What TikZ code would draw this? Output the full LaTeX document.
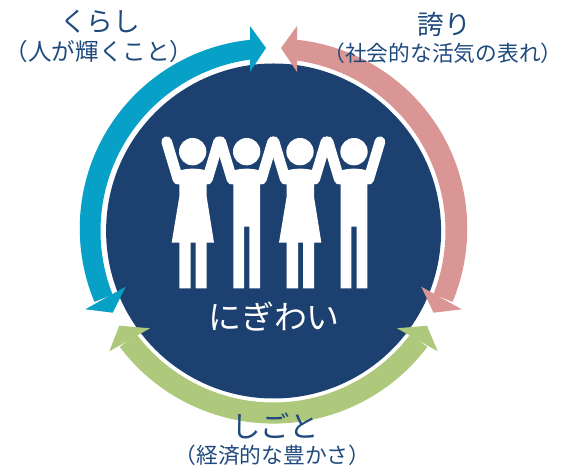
\documentclass[tikz,border=0pt]{standalone}
\usepackage{fontspec}
\usetikzlibrary{calc}
\setmainfont{Noto Sans CJK JP}
\definecolor{navy}{HTML}{1C4170}
\definecolor{txt}{HTML}{1F4A7D}
\definecolor{cblue}{HTML}{07A0C7}
\definecolor{cpink}{HTML}{D99694}
\definecolor{cgreen}{HTML}{AEC97C}
\tikzset{
  title/.style={text=txt,font=\fontsize{20}{22}\selectfont,inner sep=0pt},
  sub/.style={text=txt,font=\fontsize{16.3}{18}\selectfont,inner sep=0pt},
  arm/.style={white,line width=8pt,line cap=round},
  fig/.style={fill=white,draw=none},
}
% colour, start angle, end angle, inner radius, mid outer radius
\newcommand{\band}[5]{%
  \fill[#1] plot[domain=#2:#3,samples=60,smooth] ({273.5+(192.6+(#5-192.6)*sin((\x-(#2))/((#3)-(#2))*180))*cos(\x)},{235+(192.6+(#5-192.6)*sin((\x-(#2))/((#3)-(#2))*180))*sin(\x)})
   -- plot[domain=#3:#2,samples=60,smooth] ({273.5+#4*cos(\x)},{235+#4*sin(\x)}) -- cycle;}
\newcommand{\woman}[1]{%
  \begin{scope}[xshift=#1*0.25pt]
    \fill[fig] (128,95) circle[radius=41];
    \draw[arm] (50,65) -- (84,178);
    \draw[arm] (206,65) -- (172,178);
    \fill[fig] (88,152) .. controls (110,144) and (148,144) .. (170,152) -- (170,230) -- (192,368) -- (170,368) -- (170,505) -- (137,505) -- (137,368) -- (122,368) -- (122,505) -- (88,505) -- (88,368) -- (65,368) -- (88,230) -- cycle;
  \end{scope}}
\newcommand{\man}[1]{%
  \begin{scope}[xshift=#1*0.25pt]
    \fill[fig] (290,95) circle[radius=41];
    \draw[arm] (212,65) -- (246,178);
    \draw[arm] (368,65) -- (334,178);
    \fill[fig] (250,152) .. controls (272,144) and (308,144) .. (330,152) -- (330,505) -- (298,505) -- (298,320) -- (282,320) -- (282,505) -- (250,505) -- cycle;
  \end{scope}}
\begin{document}
\begin{tikzpicture}[x=0.75pt,y=0.75pt]
\useasboundingbox (0,0) rectangle (567,466);
\coordinate (C) at (273.6,235);
\fill[navy] (C) circle[radius=167.5];
% blue
\band{cblue}{96.5}{201.6}{173}{194.5}
\fill[cblue] (266,418) -- (250,440) -- (250,394) -- cycle;
\fill[cblue] (112.7,153.3) -- (85.3,156.7) -- (125.7,179.3) -- cycle;
% pink
\band{cpink}{-21.6}{83.5}{172}{194.5}
\fill[cpink] (281,418) -- (297,440) -- (297,394) -- cycle;
\fill[cpink] (433.5,153.3) -- (461.7,156.7) -- (421.3,179.3) -- cycle;
% green
\band{cgreen}{217}{323}{171.5}{192.6}
\fill[cgreen] (119.3,140.3) -- (109.3,114.7) -- (150,137.7) -- cycle;
\fill[cgreen] (427,140.3) -- (437.7,114.7) -- (397,137.7) -- cycle;
% people
\begin{scope}[shift={(150,346)},x=0.25pt,y=-0.25pt]
  \woman{0}
  \man{0}
  \woman{322}
  \man{322}
\end{scope}
\node[text=white,font=\fontsize{24.7}{26}\selectfont,inner sep=0pt] (main) at (274,149) {にぎわい};
\node[title] (kurashi) at (100,444) {くらし};
\node[sub,font=\fontsize{17.7}{20}\selectfont] (kurashiSub) at (99,414) {（人が輝くこと）};
\node[title] (hokori) at (444,442) {誇り};
\node[sub] (hokoriSub) at (443,413) {（社会的な活気の表れ）};
\node[title,font=\fontsize{22}{24}\selectfont] (shigoto) at (275,40) {しごと};
\node[sub] (shigotoSub) at (272.5,11) {（経済的な豊かさ）};
\end{tikzpicture}
\end{document}
